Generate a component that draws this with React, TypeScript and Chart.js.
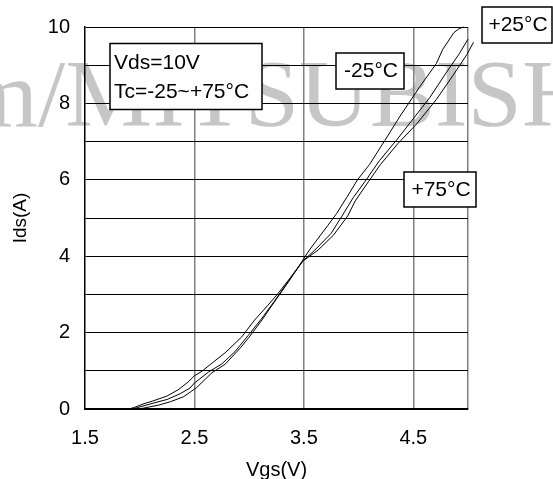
import { useEffect, useRef } from 'react';
import { Chart, registerables } from 'chart.js';

Chart.register(...registerables);

// ---- data ----
const VGS_M25 = [1.77, 1.98, 2.03, 2.17, 2.28, 2.4, 2.47, 2.52, 2.66, 2.78, 2.92, 3.0, 3.11, 3.23, 3.36, 3.48, 3.55, 3.72, 3.8, 3.89, 3.99, 4.1, 4.24, 4.38, 4.56, 4.71, 4.77, 4.82, 4.87, 4.92, 4.96];
const IDS_M25 = [0, 0, 0.02, 0.1, 0.19, 0.32, 0.46, 0.56, 0.95, 1.17, 1.6, 1.88, 2.3, 2.8, 3.33, 3.85, 4.16, 4.81, 5.12, 5.53, 6.0, 6.4, 7.03, 7.67, 8.44, 9.04, 9.42, 9.63, 9.85, 9.96, 10.0];

const VGS_P25 = [1.77, 1.93, 1.97, 2.12, 2.25, 2.37, 2.46, 2.5, 2.63, 2.75, 2.87, 2.99, 3.11, 3.23, 3.36, 3.49, 3.6, 3.75, 3.87, 3.95, 4.07, 4.19, 4.35, 4.5, 4.65, 4.8, 4.92, 5.0, 5.04];
const IDS_P25 = [0, 0, 0.03, 0.15, 0.25, 0.4, 0.55, 0.68, 0.97, 1.18, 1.5, 1.92, 2.35, 2.82, 3.35, 3.87, 4.16, 4.6, 5.15, 5.53, 6.0, 6.5, 7.05, 7.6, 8.15, 8.8, 9.3, 9.68, 9.82];

const VGS_P75 = [1.77, 1.9, 1.95, 2.03, 2.12, 2.25, 2.35, 2.44, 2.5, 2.57, 2.66, 2.78, 2.93, 3.05, 3.17, 3.26, 3.38, 3.49, 3.63, 3.77, 3.9, 3.97, 4.09, 4.2, 4.36, 4.53, 4.71, 4.86, 4.99, 5.05];
const IDS_P75 = [0, 0, 0.04, 0.13, 0.21, 0.34, 0.5, 0.7, 0.87, 0.99, 1.2, 1.47, 1.88, 2.33, 2.71, 3.01, 3.45, 3.87, 4.16, 4.55, 5.05, 5.45, 5.95, 6.4, 6.95, 7.46, 8.1, 8.72, 9.28, 9.6];

const X_TICKS = [1.5, 2.5, 3.5, 4.5, 5.0];
const X_TICK_LABELS = ['1.5', '2.5', '3.5', '4.5', ''];
const Y_TICKS = [0, 1, 2, 3, 4, 5, 6, 7, 8, 9, 10];
const Y_TICK_LABELS = ['0', '', '2', '', '4', '', '6', '', '8', '', '10'];

const SERIES_LABELS = ['-25°C', '+25°C', '+75°C'];
const CONDITION_LINES = ['Vds=10V', 'Tc=-25~+75°C'];
const X_TITLE = 'Vgs(V)';
const Y_TITLE = 'Ids(A)';
const WATERMARK = 'm/MITSUBISHI';

const SANS = "'Liberation Sans', Arial, sans-serif";

const toPoints = (xs: number[], ys: number[]) => xs.map((x, i) => ({ x, y: ys[i] }));

const decorPlugin = {
  id: 'decor',
  beforeDraw(chart: any) {
    const ctx = chart.ctx as CanvasRenderingContext2D;
    ctx.save();
    ctx.translate(-38, 126);
    ctx.scale(1.03, 1);
    ctx.font = "95px 'Liberation Serif', 'Times New Roman', serif";
    ctx.fillStyle = '#c6c6c6';
    ctx.textBaseline = 'alphabetic';
    ctx.textAlign = 'left';
    ctx.fillText(WATERMARK, 0, 0);
    ctx.restore();
  },
  afterDraw(chart: any) {
    const ctx = chart.ctx as CanvasRenderingContext2D;
    const box = (x: number, y: number, w: number, h: number) => {
      ctx.fillStyle = '#ffffff';
      ctx.fillRect(x, y, w, h);
      ctx.strokeStyle = '#000000';
      ctx.lineWidth = 1.5;
      ctx.strokeRect(x, y, w, h);
    };
    ctx.save();
    ctx.font = `21px ${SANS}`;
    ctx.fillStyle = '#000';
    ctx.textBaseline = 'alphabetic';

    // condition box
    box(110, 43.5, 152, 66);
    ctx.fillStyle = '#000';
    ctx.textAlign = 'left';
    ctx.fillText(CONDITION_LINES[0], 114, 68.5);
    ctx.fillText(CONDITION_LINES[1], 114, 98);

    const labelBox = (text: string, x: number, y: number, w: number, h: number, base: number) => {
      box(x, y, w, h);
      ctx.fillStyle = '#000';
      ctx.textAlign = 'center';
      ctx.fillText(text, x + w / 2 + 1, base);
    };
    labelBox(SERIES_LABELS[0], 336, 53, 68, 36, 77);
    labelBox(SERIES_LABELS[1], 482, 7, 70, 36, 31);
    labelBox(SERIES_LABELS[2], 404, 172, 72, 35, 196);
    ctx.restore();
  },
};

export default function App() {
  const ref = useRef<HTMLCanvasElement | null>(null);

  useEffect(() => {
    if (!ref.current) return;
    const ds = (xs: number[], ys: number[], label: string) => ({
      label,
      data: toPoints(xs, ys),
      borderColor: '#000000',
      borderWidth: 1,
      pointRadius: 0,
      tension: 0,
      fill: false,
      clip: false as any,
    });
    const chart = new Chart(ref.current, {
      type: 'line',
      data: {
        datasets: [
          ds(VGS_M25, IDS_M25, SERIES_LABELS[0]),
          ds(VGS_P25, IDS_P25, SERIES_LABELS[1]),
          ds(VGS_P75, IDS_P75, SERIES_LABELS[2]),
        ],
      },
      options: {
        animation: false,
        responsive: true,
        maintainAspectRatio: false,
        layout: { padding: { left: 0, right: 85, top: 19, bottom: 0 } },
        plugins: { legend: { display: false }, tooltip: { enabled: false } },
        scales: {
          x: {
            type: 'linear',
            min: 1.5,
            max: 5.0,
            afterBuildTicks: (scale: any) => {
              scale.ticks = X_TICKS.map((v) => ({ value: v }));
            },
            afterFit: (scale: any) => {
              scale.height = 70;
            },
            ticks: {
              autoSkip: false,
              maxRotation: 0,
              padding: 17,
              color: '#000',
              font: { size: 20, family: SANS },
              callback: (_v: any, i: number) => X_TICK_LABELS[i],
            },
            grid: {
              drawTicks: false,
              lineWidth: 1.5,
              color: (c: any) => (c.tick && c.tick.value === 1.5 ? 'rgba(0,0,0,0)' : '#808080'),
            },
            border: { display: true, color: '#000', width: 1.5 },
            title: {
              display: true,
              text: X_TITLE,
              color: '#000',
              font: { size: 20, family: SANS },
              padding: { top: 0, bottom: -3 },
            },
          },
          y: {
            type: 'linear',
            min: 0,
            max: 10,
            afterBuildTicks: (scale: any) => {
              scale.ticks = Y_TICKS.map((v) => ({ value: v }));
            },
            afterFit: (scale: any) => {
              scale.width = 85;
            },
            ticks: {
              autoSkip: false,
              padding: 15,
              color: '#000',
              font: { size: 20, family: SANS },
              callback: (_v: any, i: number) => Y_TICK_LABELS[i],
            },
            grid: { drawTicks: false, lineWidth: 1, color: '#000' },
            border: { display: true, color: '#000', width: 1.5 },
            title: {
              display: true,
              text: Y_TITLE,
              color: '#000',
              font: { size: 19, family: SANS },
              padding: { top: 9, bottom: 0 },
            },
          },
        },
      },
      plugins: [decorPlugin],
    } as any);
    return () => chart.destroy();
  }, []);

  return (
    <div style={{ position: 'fixed', left: 0, top: 0, width: 553, height: 479, background: '#fff' }}>
      <canvas ref={ref} />
    </div>
  );
}
